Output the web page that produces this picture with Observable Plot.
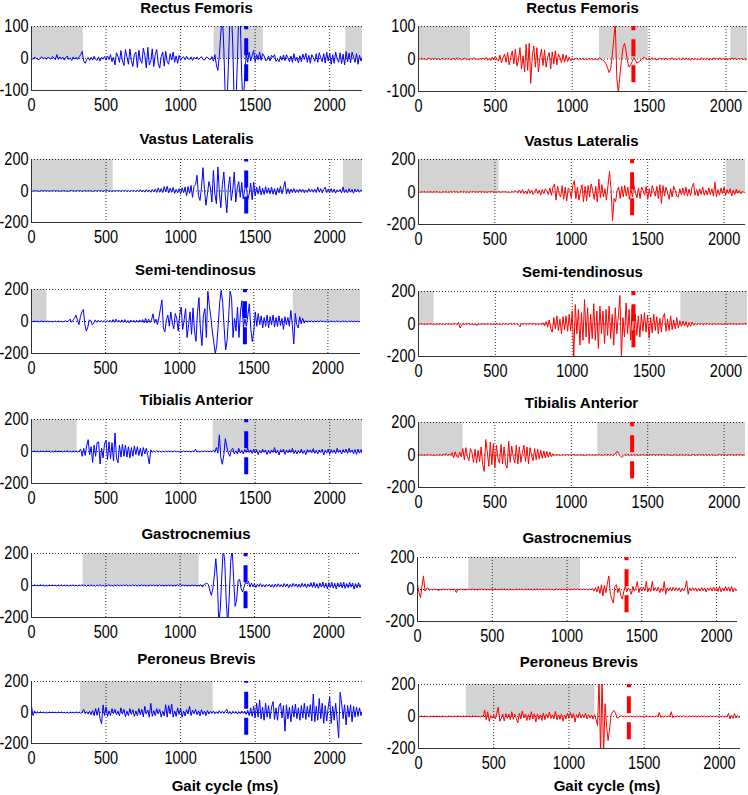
<!DOCTYPE html>
<html><head><meta charset="utf-8">
<script src="https://cdn.jsdelivr.net/npm/d3@7"></script>
<script src="https://cdn.jsdelivr.net/npm/@observablehq/plot@0.6"></script>
<style>
body{margin:0;background:#fff;}
#chart{position:relative;width:748px;height:795px;overflow:hidden;font-family:"Liberation Sans",Arial,Helvetica,sans-serif;}
.ttl{position:absolute;text-align:center;font-weight:bold;font-size:15px;line-height:18px;color:#000;white-space:nowrap;}
</style></head><body><div id="chart"></div><script>
// ---- data (EMG samples every 10 ms) ----
const STEP = 10;
const muscles = ["Rectus Femoris","Vastus Lateralis","Semi-tendinosus","Tibialis Anterior","Gastrocnemius","Peroneus Brevis"];
const yLimits = [100,200,200,200,200,200];
const xTicks = [0,500,1000,1500,2000];
const gridX = [500,1000,1500,2000];
const xLabel = "Gait cycle (ms)";
const leftOnset = 1440, rightOnset = 1398;
const leftXMax = 2220, rightXMax = 2140;

const rfL = [
2,-3,4,1,-2,-4,2,5,-2,3,
-3,4,1,-2,6,2,-4,12,-3,5,
-2,4,-5,3,8,-3,2,-6,5,-2,
4,-3,6,12,22,-8,-15,-4,3,-6,
4,-5,7,-3,-6,5,-8,4,-2,6,
-5,8,-3,12,-10,4,-20,18,6,-12,
25,-8,-22,28,5,-18,30,-6,-25,12,
20,-28,26,-5,-15,32,10,-30,35,-20,
-8,30,-25,12,28,-15,-30,6,20,-24,
22,-10,-18,15,-5,20,-12,8,-15,10,
-6,2,5,-4,7,-1,-3,5,-6,4,
-2,5,-4,1,6,-3,-5,3,4,-2,
-3,6,-8,12,-20,-37,10,80,140,30,
-130,-160,-30,120,160,40,-150,-160,-20,140,
130,-60,-150,-60,15,-12,20,-8,10,25,
-10,12,-4,20,-6,15,8,-6,-5,8,
-8,10,3,12,-9,-2,-10,8,-5,11,
-7,12,2,-10,8,-12,15,-8,4,-14,
9,-10,14,-3,16,-12,10,-15,12,3,
-9,15,-12,18,2,-10,15,-14,20,-8,
16,-18,12,-15,20,-2,-12,18,-16,14,
-20,22,-10,17,-14,20,5,-12,15,-18,
10,-8,6];
const vlL = [
2,-2,3,-1,2,-3,1,2,-2,3,
-1,2,-3,2,-1,3,-2,1,2,-3,
2,-1,3,-2,1,-3,2,4,-2,1,
-2,3,-1,2,-3,1,2,-2,3,-1,
2,-3,1,2,-2,3,-1,2,-3,2,
-1,3,-2,1,-3,2,-2,3,-1,2,
-3,4,-2,5,-4,3,-5,6,-3,4,
-5,6,-4,8,-6,5,-7,9,-5,6,
-8,10,-6,12,-9,20,-8,15,-10,28,
-5,30,-12,18,-8,22,-15,10,-12,15,
-18,20,-10,25,-30,28,-15,35,-40,30,
40,100,-30,-60,20,148,10,-91,-20,60,
20,-70,130,-20,-80,153,-10,-106,40,120,
-30,-138,20,90,-60,10,120,-70,20,60,
-40,55,-50,10,45,-55,-20,50,-55,57,
-30,25,-20,30,-25,18,-22,28,-15,20,
-18,25,-20,15,-25,20,-12,30,-18,22,
60,-20,15,-18,12,-10,15,-12,8,-10,
12,-8,10,-12,6,-9,14,-7,10,-8,
12,-10,25,-8,15,-12,10,25,-10,12,
-8,15,-10,12,-14,8,-6,10,-12,25,
-10,8,-12,15,-8,10,-14,12,-6,10,
-8,6,4];
const stL = [
2,-2,3,-1,2,-3,1,3,-2,2,
-1,3,-2,2,-3,1,2,-2,3,-1,
2,-3,1,4,-2,3,15,-5,8,20,
40,10,-20,30,60,75,-20,-60,-35,10,
5,-20,-10,10,-5,8,-4,6,-3,5,
-4,6,-3,8,-5,12,-6,15,-4,8,
-5,10,-6,12,-8,6,-10,9,-4,7,
-6,8,-5,10,-4,12,-8,20,-10,15,
-6,10,48,-10,15,-20,25,80,135,-40,
-65,10,40,-30,60,-10,-45,50,20,-60,
40,90,-50,10,80,-100,-20,60,-80,85,
-60,-124,60,149,-50,-151,40,80,-100,189,
100,30,-60,-130,-200,-150,-20,120,195,120,
-40,-178,-120,30,190,150,-100,20,-60,90,
-100,60,130,-40,15,-30,40,111,-50,-126,
-60,60,-30,50,-20,35,-40,25,-30,40,
-40,30,-20,40,-35,25,-30,35,-25,20,
-50,30,-20,25,-30,70,-20,-141,50,-20,
-40,30,-15,20,-10,5,-4,3,-2,4,
-3,2,-1,3,-2,4,-1,2,-3,1,
2,-2,3,-1,2,-3,4,-2,1,-2,
3,-1,2,-3,2,-1,3,-2,2,-1,
2,-2,1];
const taL = [
3,-2,4,-3,2,-4,3,-1,2,-3,
4,-2,3,-5,2,-3,4,-2,3,-1,
2,-4,3,-2,5,-3,2,-4,3,-2,
4,-5,6,15,-30,20,-25,35,74,-20,
30,-68,40,-30,55,60,-78,20,-40,50,
70,-50,60,-45,55,-60,116,-40,-70,40,
-35,45,-30,40,-35,30,-40,25,-30,35,
-20,30,-25,20,-30,25,-15,20,-25,-78,
10,-5,4,-3,6,-2,3,-4,2,-3,
4,-2,3,-1,2,-3,4,-2,1,-3,
2,-3,4,-2,3,-1,2,-4,3,-2,
15,-3,2,-4,3,-2,4,-1,3,-2,
4,-3,8,-5,25,-10,104,-40,-80,-20,
80,30,-10,-30,10,20,-15,5,-15,20,
-10,8,-15,12,-6,20,-8,10,-12,15,
-8,12,-20,6,-10,15,-5,10,-18,8,
-12,10,-6,25,-10,8,-22,12,-5,15,
-18,10,-8,12,-6,20,-12,8,-15,6,
-10,15,-12,6,-20,12,-5,10,-8,18,
-12,8,-15,10,-6,14,-22,8,-10,15,
-18,12,-8,10,-14,20,-6,9,-15,12,
-8,15,-12,20,-6,10,-14,12,-18,15,
-10,12,-15];
const gaL = [
3,-2,4,-1,2,-3,5,-2,3,-4,
2,-3,4,-2,3,-1,2,-4,3,-2,
4,-3,2,-2,3,-4,2,-1,3,-2,
2,-4,3,-2,5,-3,4,-6,3,-2,
4,-3,2,-5,3,-2,4,-3,2,-4,
3,-2,5,-3,2,-4,3,-2,4,-3,
2,-3,4,-2,3,-5,2,-3,4,-2,
3,-4,2,-3,5,-2,3,-4,2,-3,
4,-2,3,-3,2,-4,5,-2,3,-3,
2,-3,4,-2,3,-4,2,-3,5,-2,
8,-3,4,-2,3,-4,2,-3,4,-2,
3,-4,2,-3,5,-10,6,10,15,5,
-30,-62,-20,60,168,40,-230,-150,60,230,
150,-100,-240,-80,150,230,40,-130,-90,30,
40,-20,-40,-10,20,10,25,-10,15,-8,
10,-12,8,-6,12,-8,5,-10,7,-5,
8,-10,6,-12,9,-7,11,-8,6,-10,
12,-8,10,-14,7,-9,13,-6,10,-11,
9,-12,14,-8,11,-15,10,-9,18,-12,
20,-15,12,-18,16,-10,22,-14,15,-20,
18,-12,20,-16,14,-22,17,-10,19,-15,
21,-18,12,-14,20,-10,16,-22,12,-15,
18,-12,10];
const pbL = [
40,-20,10,-5,4,-3,5,-2,3,-4,
2,-3,4,-2,3,-1,2,-3,4,-2,
3,-2,1,-3,2,-4,3,-1,2,-3,
4,-2,3,-5,2,20,-8,5,-10,8,
-15,12,-20,25,-18,30,-40,-72,49,-20,
35,-25,10,-20,25,-8,20,-15,8,-22,
30,-10,20,-28,8,-20,25,-12,18,-25,
10,-22,25,-15,20,-28,40,-10,15,-30,
60,-25,12,-20,25,-10,20,-30,8,-22,
50,-30,45,-10,55,-30,10,-25,30,-12,
25,-30,8,-22,18,-10,40,-20,15,-8,
20,-15,10,-22,18,-12,8,-20,12,-10,
8,-6,10,-8,5,-7,12,-5,8,-6,
10,20,-8,6,-10,8,-5,7,-9,6,
-8,10,-5,8,-12,15,-20,30,-25,40,
-35,60,-30,81,-40,35,-50,60,-30,45,
-40,35,70,-45,30,-50,40,60,-35,45,
-121,50,-40,35,-60,45,-30,55,-40,30,
-50,45,-35,60,-45,40,-30,50,-55,119,
-60,40,-50,90,-40,60,-70,45,-55,35,
98,-70,40,-50,60,-45,-164,130,60,-40,
50,-80,45,-30,50,-60,40,-30,35,-25,
30,-20,10];

const rfR = [
2,-2,3,-1,2,-3,1,3,-2,2,
-1,3,-2,2,-3,1,2,-2,3,-1,
2,-3,1,2,-2,4,-1,2,-3,1,
3,-2,1,-3,2,-1,4,-2,1,-3,
2,-1,3,-2,5,-4,2,-5,6,-3,
8,-2,-6,12,-12,4,15,-10,20,-18,
5,25,-15,30,-22,-5,35,-30,10,-40,
45,-35,48,-75,10,40,-25,35,-40,5,
30,-20,28,-25,5,20,-30,22,-15,25,
-18,15,5,-12,15,-10,12,-8,6,-5,
2,-3,1,3,-2,2,-1,3,-2,1,
-2,3,-1,2,-3,2,-2,1,3,-2,
-3,-8,-15,-28,-42,-30,10,60,110,-60,
-105,-50,-5,35,48,25,-10,-25,-18,-8,
4,-3,-12,-10,-6,-2,3,6,1,-2,
3,-2,4,-1,2,-3,1,3,-2,2,
-2,3,-3,2,-1,4,-2,1,-3,2,
2,-3,4,-2,3,-1,2,-4,3,-2,
3,-2,1,-3,4,-2,2,-1,3,-4,
2,-3,4,-1,3,-2,4,-3,2,-1,
3,-4,2,-2,4,-1,3,-3,2,-2,
3,-2,1,-3,2];
const vlR = [
1,-2,2,-1,3,-2,1,-1,2,-2,
2,-1,3,-2,1,-3,2,-1,2,-2,
-1,2,-2,3,-1,2,-3,1,2,-1,
2,-2,1,-3,2,-1,3,-2,1,-2,
3,-1,2,-2,1,-3,2,-1,3,-2,
2,-3,1,2,-2,3,-1,4,-3,2,
-4,5,-3,8,2,-6,12,-8,15,-10,
6,-12,18,-8,10,-15,3,20,-10,12,
-18,15,-10,20,5,-15,25,-20,30,50,
-50,35,-10,-30,40,-45,30,-55,25,10,
-35,40,70,-40,30,-50,5,45,-60,35,
-55,40,-30,50,10,-45,35,-60,80,-35,
45,-30,20,-50,40,125,20,-175,-40,-60,
10,30,-40,35,-30,40,-25,30,-45,20,
-30,40,-5,-35,25,-40,30,10,-20,35,
-45,20,-30,40,5,-25,35,-40,45,-70,
40,-25,30,-5,-45,20,-30,35,10,-25,
-30,20,-15,25,-20,30,-25,18,-22,28,
55,-20,15,-25,20,-15,30,-20,12,-18,
25,-15,20,-25,60,-30,15,-20,25,-10,
30,-20,15,-10,20,-25,12,-15,18,-8,
10,-12,6,-4,3];
const stR = [
2,-1,3,-2,1,-2,2,-1,3,-2,
1,-2,2,-1,3,-2,1,-3,2,-1,
2,-2,1,-1,3,-2,10,-25,-8,5,
-2,3,-1,4,-3,2,-5,3,-10,4,
-2,3,-1,2,-3,4,-2,1,-3,2,
-1,3,-2,2,-4,3,-1,2,-3,1,
3,-2,4,-1,2,-3,-17,3,-2,4,
-3,2,-1,3,-2,4,-3,2,-4,3,
-5,8,-12,15,-20,25,-30,-50,40,-30,
50,-40,30,-60,45,-35,50,-45,60,-40,
80,-200,120,-60,90,-130,70,-100,150,-80,
100,-120,60,-90,125,-100,80,-150,110,-60,
80,-120,90,-70,110,-90,60,-130,100,-60,
50,175,-200,40,-80,130,-60,90,-100,100,
-90,60,-70,50,-80,60,-45,70,-50,55,
-87,40,-55,60,-40,45,-60,35,-50,40,
65,-45,30,-40,50,-35,25,-30,40,-25,
20,-15,18,-12,15,-20,10,-14,12,-8,
5,-4,3,-2,4,-3,2,-1,3,-2,
2,-3,1,2,-2,3,-1,2,-3,1,
3,-2,2,-1,3,-2,1,-3,2,-1,
2,-2,3,-1,2];
const taR = [
2,-1,3,-2,1,-2,3,-1,2,-2,
1,-3,2,-1,2,-2,3,-1,10,-3,
4,-2,15,-18,20,-10,-15,18,-12,40,
-30,45,-10,-35,40,15,-45,35,-50,30,
-40,50,-60,-101,95,20,-70,80,-60,70,
-75,60,-20,-50,65,-55,50,-60,-80,85,
-45,55,-10,-50,60,-55,50,-45,15,60,
-40,50,-55,45,-5,-35,40,-30,35,-25,
30,-20,25,-18,22,-15,18,-10,8,-4,
3,-1,2,-3,1,2,-2,3,-1,2,
-2,1,3,-2,2,-1,3,-2,1,-3,
2,-1,4,-2,3,-3,2,-1,3,-2,
2,-3,4,-1,3,-2,5,-4,3,10,
23,8,-5,-15,-8,3,-2,4,-3,2,
-2,3,-1,2,-3,2,-1,3,-2,1,
3,-2,2,-1,4,-3,2,-1,3,-2,
2,-3,1,3,-2,2,-4,3,-1,2,
-2,3,-1,2,-3,4,-2,1,-3,2,
3,-2,1,-2,3,-1,2,-3,4,-2,
2,-1,3,-2,1,-3,2,5,-2,3,
-1,2,-3,2,-1,3,-2,1,-2,3,
-1,2,-2,1,-1];
const gaR = [
33,-20,-50,20,85,-10,5,10,-5,4,
-3,4,-2,3,-10,2,-3,4,-2,3,
-1,4,-3,2,-2,3,-19,2,-3,4,
-2,3,-4,2,-1,3,-2,4,-3,2,
-3,2,-1,4,-2,3,-4,2,-3,1,
3,-2,4,-3,2,-1,3,-2,4,-3,
2,-4,3,-2,1,-3,4,-2,3,-1,
2,-3,4,-2,3,-1,2,-4,3,-2,
4,-2,3,-3,2,-1,3,-2,4,-3,
2,-3,1,4,-2,3,-3,2,-1,3,
-2,4,-3,2,-1,3,-2,4,-3,2,
-2,3,-1,2,-4,3,-2,8,-10,12,
-15,20,-25,30,-40,25,-20,40,85,-30,
-60,-85,20,30,-20,10,-40,-60,-10,20,
-15,10,-8,-30,20,-10,8,50,-20,12,
-10,15,-8,50,-15,10,-12,50,-8,12,
-10,15,-20,8,-12,50,-30,10,-8,12,
-10,15,-8,12,-6,10,-15,8,-10,12,
55,-30,10,-8,12,-6,10,-12,8,-10,
12,-8,10,-15,8,-6,12,-10,15,-8,
10,-12,20,-15,8,-10,18,-8,15,-12,
20,-15,10,-8,5];
const pbR = [
2,-3,4,-1,3,-2,1,-4,3,-2,
4,-2,3,-1,2,-3,4,-2,1,-3,
3,-1,2,-4,3,-2,4,-1,2,-3,
4,-2,3,-1,2,-3,5,-2,3,-1,
2,-4,3,-2,41,-20,30,-30,5,-10,
8,-15,20,58,-30,-10,15,-28,18,-12,
15,-20,30,-18,15,-12,-40,20,-15,35,
-10,15,-25,12,-20,30,-15,18,-35,15,
-18,10,-25,22,-20,15,-10,28,-12,10,
-15,32,-20,10,-18,15,-30,10,-15,20,
-12,25,-10,18,-35,12,-8,25,-10,12,
-8,20,-16,12,-10,8,-15,10,-20,-56,
230,-230,240,-240,80,-60,-150,-80,10,30,
37,20,-10,-8,3,5,-2,4,-3,2,
-2,3,-1,2,-3,4,-2,3,-1,2,
-3,2,4,-2,3,-1,2,-3,5,-2,
25,-5,3,-2,4,-3,2,-1,30,-8,
3,-2,4,-1,3,-2,5,-3,2,-4,
3,-1,4,-2,3,-3,2,-1,4,-2,
3,-2,1,-3,4,-2,3,-1,2,-3,
4,-2,3,-5,2,-3,20,-15,8,-12,
18,-10,6,-8,3];

// grey shaded phases [start, end] in ms
const leftShade = [
  [[0,348],[1224,1555],[2108,2220]],
  [[0,548],[2092,2220]],
  [[0,105],[1767,2220]],
  [[0,306],[1219,2220]],
  [[347,1128]],
  [[329,1219]]
];
const rightShade = [
  [[0,338],[1177,1495],[2032,2140]],
  [[0,527],[2014,2140]],
  [[0,101],[1707,2140]],
  [[0,292],[1173,2140]],
  [[343,1090]],
  [[318,1173]]
];
const leftSeries = [rfL, vlL, stL, taL, gaL, pbL];
const rightSeries = [rfR, vlR, stR, taR, gaR, pbR];

// ---- layout (pixel geometry of each plot frame) ----
const layoutL = [
  {left:31, top:26,  w:331, h:64, ty:8},
  {left:31, top:159, w:331, h:63, ty:139},
  {left:31, top:289, w:329, h:64, ty:270},
  {left:31, top:419, w:331, h:64, ty:400},
  {left:31, top:553, w:330, h:64, ty:534},
  {left:31, top:681, w:331, h:62, ty:659}
];
const layoutR = [
  {left:418, top:26,  w:329, h:65, ty:8},
  {left:418, top:159, w:327, h:65, ty:141},
  {left:418, top:291, w:329, h:65, ty:272},
  {left:418, top:422, w:327, h:65, ty:403},
  {left:417, top:557, w:320, h:64, ty:538},
  {left:418, top:684, w:322, h:64, ty:662}
];

const chart = document.getElementById("chart");
const FONT = '"Liberation Sans",Arial,Helvetica,sans-serif';

function addText(txt, x, y, w) {
  const d = document.createElement("div");
  d.className = "ttl";
  d.textContent = txt;
  d.style.left = x + "px";
  d.style.width = w + "px";
  d.style.top = (y - 9) + "px";
  chart.appendChild(d);
}

function panel(series, shade, onset, xmax, color, L, name, ymax) {
  const ml = 44, mr = 6, mt = 4, mb = 30;
  const svg = Plot.plot({
    width: ml + L.w + mr,
    height: mt + L.h + mb,
    marginLeft: ml, marginRight: mr, marginTop: mt, marginBottom: mb,
    style: {background: "transparent", fontFamily: FONT, fontSize: "14.5px", color: "#000", overflow: "visible"},
    x: {domain: [0, xmax], ticks: xTicks, tickSize: 0, tickPadding: 8, tickFormat: d => String(d), label: null},
    y: {domain: [-ymax, ymax], ticks: [-ymax, 0, ymax], tickSize: 0, tickPadding: 3, tickFormat: d => String(d), label: null},
    marks: [
      Plot.rect(shade, {x1: d => d[0], x2: d => d[1], y1: 0, y2: ymax, fill: "#d3d3d3"}),
      Plot.ruleX(gridX, {stroke: "#000", strokeDasharray: "1,2", strokeOpacity: 0.8}),
      Plot.ruleY([0, ymax], {stroke: "#000", strokeDasharray: "1,2", strokeOpacity: 0.8}),
      Plot.line(series, {x: (d, i) => i * STEP, y: d => d, stroke: color, strokeWidth: 1, clip: true}),
      Plot.ruleX([onset], {y1: -0.73 * ymax, y2: ymax, stroke: color, strokeWidth: 4, strokeDasharray: "17,9"}),
      Plot.ruleX([0], {stroke: "#333"}),
      Plot.ruleY([-ymax], {stroke: "#333"})
    ]
  });
  // taller glyphs, as in the original figure
  svg.querySelectorAll("text").forEach(t => {
    const tr = t.getAttribute("transform");
    if (tr && tr.indexOf("translate") >= 0) t.setAttribute("transform", tr + " scale(1,1.22)");
  });
  svg.style.position = "absolute";
  svg.style.left = (L.left - ml) + "px";
  svg.style.top = (L.top - mt) + "px";
  chart.appendChild(svg);
  addText(name, L.left, L.ty, L.w);
}

for (let k = 0; k < 6; k++) {
  panel(leftSeries[k], leftShade[k], leftOnset, leftXMax, "#0000ff", layoutL[k], muscles[k], yLimits[k]);
  panel(rightSeries[k], rightShade[k], rightOnset, rightXMax, "#ff0000", layoutR[k], muscles[k], yLimits[k]);
}
addText(xLabel, 145, 786, 160);
addText(xLabel, 527, 786, 160);
</script></body></html>
